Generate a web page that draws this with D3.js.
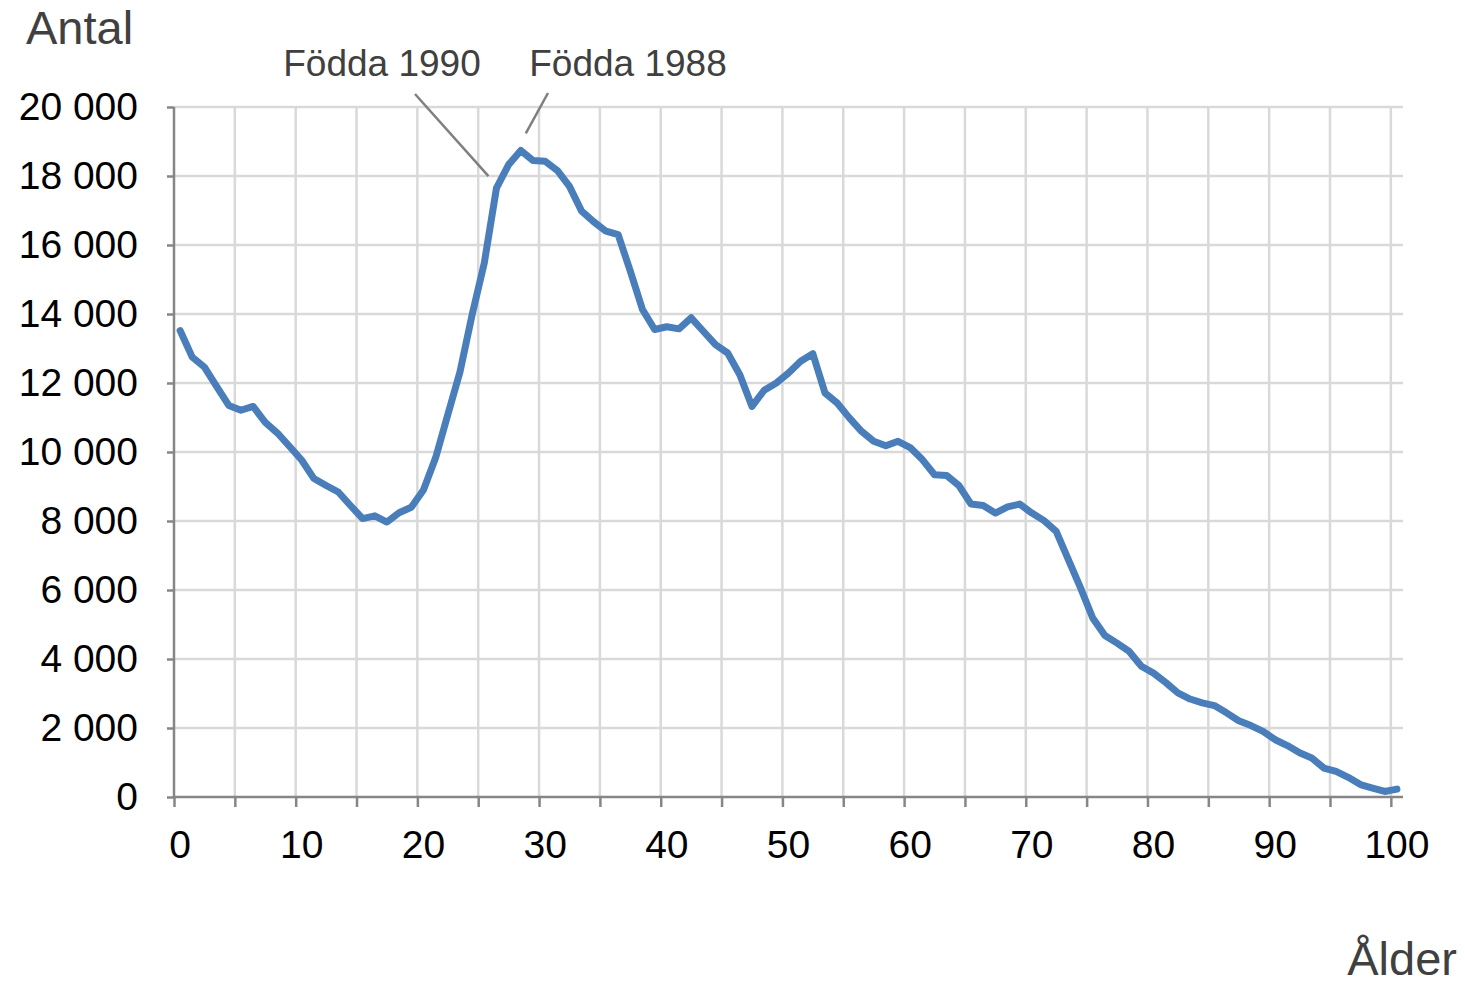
<!DOCTYPE html>
<html lang="sv">
<head>
<meta charset="utf-8">
<title>Antal efter ålder</title>
<script src="https://cdn.jsdelivr.net/npm/d3@7/dist/d3.min.js"></script>
<style>
  html, body { margin: 0; padding: 0; background: #ffffff; }
  svg { display: block; font-family: "Liberation Sans", Arial, sans-serif; }
</style>
</head>
<body>
<svg id="chart" width="1465" height="984"></svg>
<script>
// Ålder 0–100
const ages = d3.range(0, 101);

// Antal personer per ålder
const counts = [
  13520, 12750, 12460, 11900, 11350, 11210, 11320, 10860, 10550, 10160,
  9760, 9230, 9030, 8840, 8450, 8070, 8150, 7970, 8240, 8400,
  8900, 9830, 11080, 12320, 13980, 15480, 17650, 18330, 18740, 18450,
  18430, 18160, 17700, 16980, 16670, 16400, 16300, 15240, 14130, 13550,
  13630, 13570, 13890, 13500, 13110, 12870, 12240, 11320, 11790, 12000,
  12290, 12630, 12850, 11710, 11420, 10990, 10600, 10310, 10180, 10310,
  10130, 9780, 9340, 9320, 9030, 8490, 8450, 8230, 8410, 8490,
  8230, 8010, 7700, 6880, 6060, 5190, 4680, 4460, 4220, 3790,
  3590, 3320, 3020, 2840, 2730, 2650, 2440, 2210, 2070, 1900,
  1660, 1490, 1280, 1130, 840, 740, 570, 360, 260, 160,
  230
];

const yTicks = [0, 2000, 4000, 6000, 8000, 10000, 12000, 14000, 16000, 18000, 20000];
const xTickAges = d3.range(0, 101, 5);
const xLabelAges = d3.range(0, 101, 10);

const annotations = [
  { text: "Födda 1990", age: 26 },
  { text: "Födda 1988", age: 28 }
];

const svg = d3.select("#chart");
const plotLeft = 174, plotRight = 1403, plotTop = 107, plotBottom = 797;

// Kategoriaxel: varje ålder får ett eget band
const xBand = d3.scaleBand().domain(ages).range([plotLeft, plotRight]).padding(0);
const xEdge = d3.scaleLinear().domain([0, ages.length]).range([plotLeft, plotRight]);
const xc = a => xBand(a) + xBand.bandwidth() / 2;
const y = d3.scaleLinear().domain([0, 20000]).range([plotBottom, plotTop]);

const fmt = d3.formatLocale({ decimal: ",", thousands: " ", grouping: [3], currency: ["", " kr"] }).format(",d");

// Stödlinjer
const grid = svg.append("g").attr("stroke", "#d9d9d9").attr("stroke-width", 2.5);
grid.selectAll("line.h").data(yTicks.filter(d => d > 0)).join("line")
  .attr("class", "h")
  .attr("x1", plotLeft).attr("x2", plotRight)
  .attr("y1", d => y(d)).attr("y2", d => y(d));
grid.selectAll("line.v").data(xTickAges.filter(d => d > 0)).join("line")
  .attr("class", "v")
  .attr("x1", d => xEdge(d)).attr("x2", d => xEdge(d))
  .attr("y1", plotTop).attr("y2", plotBottom);

// Y-axel
const yAxis = svg.append("g")
  .attr("transform", `translate(${plotLeft},0)`)
  .call(d3.axisLeft(y).tickValues(yTicks).tickFormat(fmt).tickSize(7).tickPadding(29));
yAxis.selectAll("path, line").attr("stroke", "#868686").attr("stroke-width", 2.5);
yAxis.select(".domain").attr("d", `M0,${plotBottom}V${plotTop}`);
yAxis.selectAll("text").attr("fill", "#000").style("font-size", "39px")
  .style("font-family", "'Liberation Sans', Arial, sans-serif");

// X-axel: streck mellan kategorierna
const xAxis = svg.append("g")
  .attr("transform", `translate(0,${plotBottom})`)
  .call(d3.axisBottom(xEdge).tickValues(xTickAges).tickFormat("").tickSize(10));
xAxis.selectAll("path, line").attr("stroke", "#868686").attr("stroke-width", 2.5);
xAxis.select(".domain").attr("d", `M${plotLeft},0H${plotRight}`);

// X-etiketter i kategorins mitt
const xLabels = svg.append("g")
  .attr("transform", `translate(0,${plotBottom})`)
  .call(d3.axisBottom(xBand).tickValues(xLabelAges).tickSize(0).tickPadding(33));
xLabels.select(".domain").remove();
xLabels.selectAll("text").attr("fill", "#000").style("font-size", "39px")
  .style("font-family", "'Liberation Sans', Arial, sans-serif");

// Linjen
const line = d3.line().x((d, i) => xc(ages[i])).y(d => y(d));
svg.append("path")
  .datum(counts)
  .attr("d", line)
  .attr("fill", "none")
  .attr("stroke", "#4a7ebb")
  .attr("stroke-width", 7)
  .attr("stroke-linejoin", "round")
  .attr("stroke-linecap", "round");

// Pekare till födelseårgångarna
const leaders = [
  { x1: 415, y1: 94, x2: xc(annotations[0].age) - 8, y2: y(counts[annotations[0].age]) - 12, tx: 382, ty: 76 },
  { x1: 548, y1: 93, x2: xc(annotations[1].age) + 5, y2: y(counts[annotations[1].age]) - 17, tx: 628, ty: 76 }
];
annotations.forEach((a, i) => {
  const l = leaders[i];
  svg.append("line")
    .attr("x1", l.x1).attr("y1", l.y1).attr("x2", l.x2).attr("y2", l.y2)
    .attr("stroke", "#7f7f7f").attr("stroke-width", 2.5);
  svg.append("text")
    .attr("x", l.tx).attr("y", l.ty)
    .attr("text-anchor", "middle")
    .attr("fill", "#404040")
    .style("font-size", "37px")
    .text(a.text);
});

// Axeltitlar
svg.append("text").attr("x", 26).attr("y", 44)
  .attr("fill", "#404040").style("font-size", "47px").text("Antal");
svg.append("text").attr("x", 1457).attr("y", 975).attr("text-anchor", "end")
  .attr("fill", "#404040").style("font-size", "47px").text("Ålder");
</script>
</body>
</html>
